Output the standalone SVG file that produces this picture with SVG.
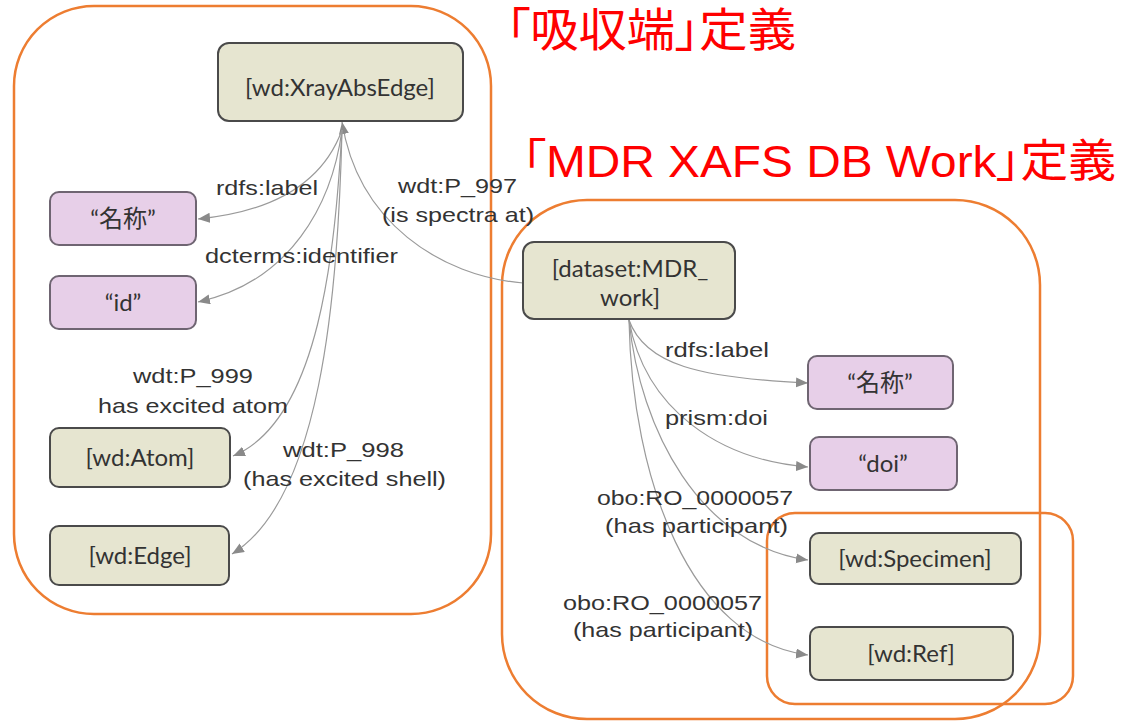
<svg xmlns="http://www.w3.org/2000/svg" width="1128" height="721" viewBox="0 0 1128 721">
<style>
.grp{fill:none;stroke:#ED7D31;stroke-width:2.5}
.cls{fill:#E6E5D0;stroke:#4a4a4a;stroke-width:2}
.lit{fill:#E7CFE8;stroke:#6f6572;stroke-width:2}
.nt{font-family:Lato,"Noto Sans CJK JP",sans-serif;font-size:24px;fill:#333;text-anchor:middle}
.lb{font-family:"Liberation Sans",Arial,sans-serif;font-size:21px;fill:#333}
.ttl{font-family:"Liberation Sans","Noto Sans CJK JP",sans-serif;fill:#FF0000;font-feature-settings:"palt"}
.edge{fill:none;stroke:#9a9a9a;stroke-width:1.2}
</style>
<defs>
<marker id="ah" markerUnits="userSpaceOnUse" markerWidth="13" markerHeight="11" refX="12" refY="5" orient="auto">
<path d="M0,0 L12,5 L0,10 Z" fill="#8a8a8a"/>
</marker>
</defs>
<rect width="1128" height="721" fill="#fff"/>

<g id="groups">
<rect class="grp" x="14" y="6" width="477" height="608" rx="80" ry="80"/>
<rect class="grp" x="502" y="200" width="538" height="519" rx="85" ry="85"/>
<rect class="grp" x="767" y="513" width="306" height="191" rx="28" ry="28"/>
</g>

<g id="titles">
<text class="ttl" x="506" y="46" font-size="46" textLength="290" lengthAdjust="spacingAndGlyphs">「吸収端」定義</text>
<text class="ttl" x="522" y="177" font-size="45" textLength="594" lengthAdjust="spacingAndGlyphs">「MDR XAFS DB Work」定義</text>
</g>

<g id="connectors">
<path class="edge" marker-end="url(#ah)" d="M523,283 C440,276 358,222 342,122"/>
<path class="edge" marker-end="url(#ah)" d="M342,130 C322,185 270,212 198,219"/>
<path class="edge" marker-end="url(#ah)" d="M342,130 C332,205 290,282 198,302"/>
<path class="edge" marker-end="url(#ah)" d="M342,130 C335,250 320,420 233,456"/>
<path class="edge" marker-end="url(#ah)" d="M342,130 C338,300 320,500 232,554"/>
<path class="edge" marker-end="url(#ah)" d="M629,320 C645,365 700,378 808,383"/>
<path class="edge" marker-end="url(#ah)" d="M629,320 C645,410 720,460 808,467"/>
<path class="edge" marker-end="url(#ah)" d="M629,320 C640,430 700,545 808,560"/>
<path class="edge" marker-end="url(#ah)" d="M629,320 C632,480 690,640 808,655"/>
</g>

<g id="edge-labels">
<text class="lb" x="216" y="195" textLength="102" lengthAdjust="spacingAndGlyphs">rdfs:label</text>
<text class="lb" x="205" y="263" textLength="193" lengthAdjust="spacingAndGlyphs">dcterms:identifier</text>
<text class="lb" x="398" y="193" textLength="119" lengthAdjust="spacingAndGlyphs">wdt:P_997</text>
<text class="lb" x="382" y="222" textLength="152" lengthAdjust="spacingAndGlyphs">(is spectra at)</text>
<text class="lb" x="133" y="383" textLength="120" lengthAdjust="spacingAndGlyphs">wdt:P_999</text>
<text class="lb" x="98" y="413" textLength="190" lengthAdjust="spacingAndGlyphs">has excited atom</text>
<text class="lb" x="283" y="457" textLength="121" lengthAdjust="spacingAndGlyphs">wdt:P_998</text>
<text class="lb" x="243" y="486" textLength="203" lengthAdjust="spacingAndGlyphs">(has excited shell)</text>
<text class="lb" x="665" y="357" textLength="104" lengthAdjust="spacingAndGlyphs">rdfs:label</text>
<text class="lb" x="665" y="425" textLength="103" lengthAdjust="spacingAndGlyphs">prism:doi</text>
<text class="lb" x="597" y="505" textLength="196" lengthAdjust="spacingAndGlyphs">obo:RO_0000057</text>
<text class="lb" x="605" y="533" textLength="183" lengthAdjust="spacingAndGlyphs">(has participant)</text>
<text class="lb" x="563" y="610" textLength="199" lengthAdjust="spacingAndGlyphs">obo:RO_0000057</text>
<text class="lb" x="573" y="637" textLength="180" lengthAdjust="spacingAndGlyphs">(has participant)</text>
</g>

<g id="n-xrayabsedge">
<rect class="cls" x="218" y="43" width="245" height="78" rx="11"/>
<text class="nt" x="340" y="96">[wd:XrayAbsEdge]</text>
</g>
<g id="n-label-left">
<rect class="lit" x="50" y="192" width="146" height="53" rx="9"/>
<text class="nt" x="123" y="227">“名称”</text>
</g>
<g id="n-id">
<rect class="lit" x="50" y="276" width="146" height="53" rx="9"/>
<text class="nt" x="123" y="311">“id”</text>
</g>
<g id="n-atom">
<rect class="cls" x="50" y="428" width="180" height="59" rx="9"/>
<text class="nt" x="140" y="466">[wd:Atom]</text>
</g>
<g id="n-edge">
<rect class="cls" x="50" y="526" width="179" height="59" rx="9"/>
<text class="nt" x="140" y="564">[wd:Edge]</text>
</g>
<g id="n-dataset">
<rect class="cls" x="523" y="242" width="212" height="77" rx="11"/>
<text class="nt" x="630" y="277">[dataset:MDR_</text>
<text class="nt" x="630" y="306">work]</text>
</g>
<g id="n-label-right">
<rect class="lit" x="808" y="356" width="145" height="53" rx="9"/>
<text class="nt" x="880" y="391">“名称”</text>
</g>
<g id="n-doi">
<rect class="lit" x="810" y="437" width="147" height="53" rx="9"/>
<text class="nt" x="883" y="472">“doi”</text>
</g>
<g id="n-specimen">
<rect class="cls" x="810" y="533" width="211" height="51" rx="9"/>
<text class="nt" x="915" y="567">[wd:Specimen]</text>
</g>
<g id="n-ref">
<rect class="cls" x="810" y="627" width="203" height="53" rx="9"/>
<text class="nt" x="911" y="662">[wd:Ref]</text>
</g>
</svg>
